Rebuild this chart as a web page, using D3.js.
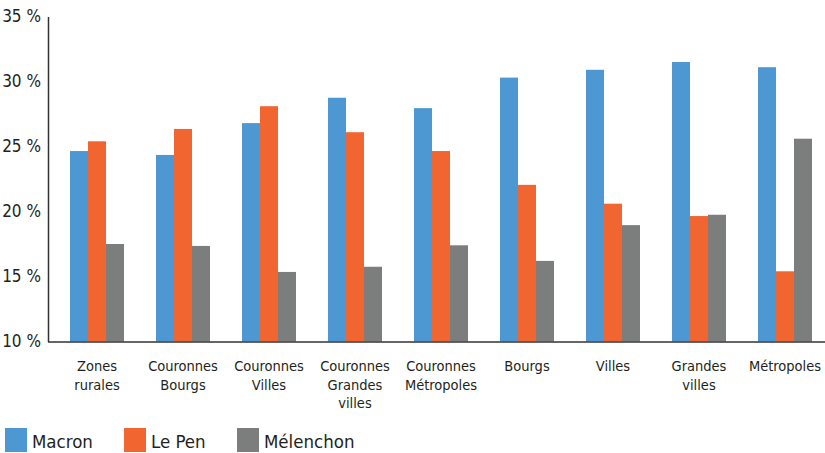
<!DOCTYPE html>
<html>
<head>
<meta charset="utf-8">
<script src="https://cdn.jsdelivr.net/npm/d3@7"></script>
<style>
  body { margin:0; background:#fff; }
  text { font-family: "Liberation Sans Narrow", "DejaVu Sans Condensed", "Roboto", sans-serif; fill:#231f20; }
</style>
</head>
<body>
<div id="chart"></div>
<script>
// categories (each label split into lines)
var categories = [
  ["Zones", "rurales"],
  ["Couronnes", "Bourgs"],
  ["Couronnes", "Villes"],
  ["Couronnes", "Grandes", "villes"],
  ["Couronnes", "Métropoles"],
  ["Bourgs"],
  ["Villes"],
  ["Grandes", "villes"],
  ["Métropoles"]
];
var seriesNames = ["Macron", "Le Pen", "Mélenchon"];
var macron    = [24.65, 24.35, 26.8, 28.75, 27.95, 30.3, 30.9, 31.5, 31.1];
var lePen     = [25.4, 26.35, 28.1, 26.1, 24.65, 22.05, 20.6, 19.65, 15.4];
var melenchon = [17.5, 17.35, 15.35, 15.75, 17.4, 16.2, 18.95, 19.75, 25.6];
var yTicks = [10, 15, 20, 25, 30, 35];
var colors = ["#4d98d3", "#f06530", "#7b7e7d"];

var W = 825, H = 453;
var svg = d3.select("#chart").append("svg")
    .attr("width", W).attr("height", H);

var series = [macron, lePen, melenchon];

// scales
var x0 = d3.scaleBand()
    .domain(d3.range(categories.length))
    .range([54, 828])
    .paddingInner(0.372)
    .paddingOuter(0.186);
var x1 = d3.scaleBand()
    .domain(d3.range(seriesNames.length))
    .range([0, x0.bandwidth()]);
var y = d3.scaleLinear()
    .domain([10, 35])
    .range([341.5, 16.5]);

// bars
var groups = svg.selectAll(".grp")
    .data(categories)
    .enter().append("g")
    .attr("class", "grp")
    .attr("transform", function(d, i) { return "translate(" + x0(i) + ",0)"; });

groups.selectAll("rect")
    .data(function(d, i) { return series.map(function(s, k) { return { k: k, v: s[i] }; }); })
    .enter().append("rect")
    .attr("x", function(d) { return x1(d.k); })
    .attr("width", x1.bandwidth())
    .attr("y", function(d) { return y(d.v); })
    .attr("height", function(d) { return y(10) - y(d.v); })
    .attr("fill", function(d) { return colors[d.k]; });

// y axis
var yAxis = svg.append("g")
    .attr("transform", "translate(48,0)")
    .call(d3.axisLeft(y).tickValues(yTicks).tickSize(0).tickPadding(7)
      .tickFormat(function(d) { return d + " %"; }));
yAxis.select(".domain").attr("stroke", "#333").attr("stroke-width", 1.5);
yAxis.selectAll("text")
    .style("font-size", "17px")
    .attr("fill", "#231f20");

// x axis line
svg.append("line")
    .attr("x1", 48).attr("x2", W)
    .attr("y1", y(10) + 0.5).attr("y2", y(10) + 0.5)
    .attr("stroke", "#333").attr("stroke-width", 1.5);

// category labels
var labels = svg.selectAll(".cat")
    .data(categories)
    .enter().append("text")
    .attr("class", "cat")
    .attr("text-anchor", "middle")
    .attr("x", function(d, i) { return x0(i) + x0.bandwidth() / 2; })
    .attr("y", 371)
    .style("font-size", "14.5px");
labels.selectAll("tspan")
    .data(function(d) { return d; })
    .enter().append("tspan")
    .attr("x", function() { return d3.select(this.parentNode).attr("x"); })
    .attr("dy", function(d, i) { return i === 0 ? 0 : 18.5; })
    .text(function(d) { return d; });

// legend
var legendX = [5, 124, 237];
var legend = svg.selectAll(".leg")
    .data(seriesNames)
    .enter().append("g")
    .attr("class", "leg")
    .attr("transform", function(d, i) { return "translate(" + legendX[i] + ",428)"; });
legend.append("rect")
    .attr("width", 22).attr("height", 24)
    .attr("fill", function(d, i) { return colors[i]; });
legend.append("text")
    .attr("x", 27).attr("y", 20)
    .style("font-size", "18.5px")
    .text(function(d) { return d; });
</script>
</body>
</html>
